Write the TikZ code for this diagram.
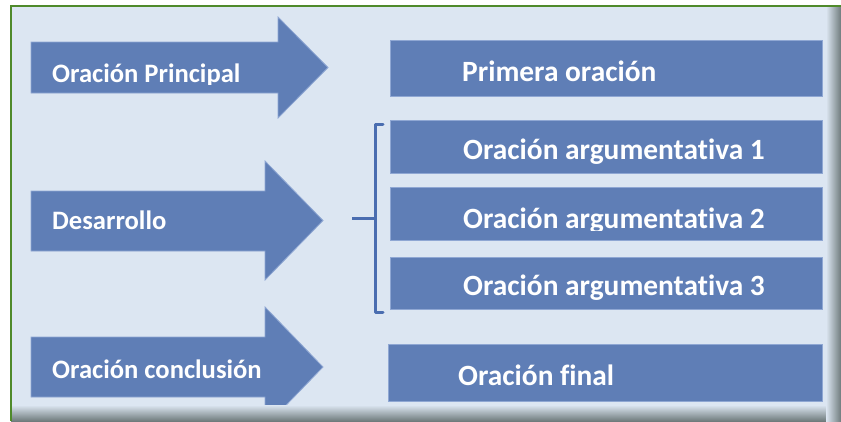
\documentclass[tikz,border=0pt]{standalone}
\usepackage{fontspec}
\setmainfont[Ligatures={NoCommon}]{Carlito}
\definecolor{bgblue}{HTML}{DCE6F2}
\definecolor{boxfill}{HTML}{5F7EB6}
\definecolor{boxedge}{HTML}{8FA7D3}
\definecolor{brblue}{HTML}{4A6DB0}
\definecolor{frgreen}{HTML}{4F8A2B}
\definecolor{shgray}{HTML}{6F7B7C}
\tikzset{
  arrowshape/.style={fill=boxfill, draw=boxedge, line width=0.8pt, line join=miter},
  boxshape/.style={fill=boxfill, draw=boxedge, line width=1pt},
  arrowtext/.style={anchor=base west, text=white, inner sep=0pt, font=\bfseries\fontsize{26.6}{28}\selectfont},
  boxtext/.style={anchor=base west, text=white, inner sep=0pt, font=\bfseries\fontsize{29.4}{31}\selectfont},
  bracketline/.style={draw=brblue, line width=3pt, line join=round, line cap=round}
}
\begin{document}
\begin{tikzpicture}[x=1pt,y=-1pt]
\useasboundingbox (0,0) rectangle (841,421);
\fill[white] (0,0) rectangle (841,421);
\fill[bgblue] (11,6) rectangle (841,421);

% arrows
\begin{scope}
\clip (11,6) rectangle (841,421);
\path[arrowshape] (31,42) -- (278,42) -- (278,17) -- (328,67.5) -- (278,118) -- (278,93) -- (31,93) -- cycle;
\path[arrowshape] (31,191) -- (265,191) -- (265,161) -- (323,220.5) -- (265,280) -- (265,251) -- (31,251) -- cycle;
\path[arrowshape] (31,337) -- (265,337) -- (265,307) -- (323,367) -- (265,427) -- (265,397) -- (31,397) -- cycle;
\end{scope}

% arrow texts
\begin{scope}
\clip (31,42) rectangle (300,84);
\node[arrowtext] (a1) at (52,82.5) {Oración Principal};
\end{scope}
\node[arrowtext] (a2) at (52,229.5) {Desarrollo};
\node[arrowtext] (a3) at (52,378) {Oración conclusión};

% boxes
\path[boxshape] (390,40) rectangle (822,96);
\path[boxshape] (390,120) rectangle (822,173);
\path[boxshape] (390,187) rectangle (822,240);
\path[boxshape] (390,257) rectangle (822,309);
\path[boxshape] (388,344) rectangle (822,401);

\node[boxtext] (b1) at (462,81.5) {Primera oración};
\node[boxtext] (b2) at (463,159) {Oración argumentativa 1};
\begin{scope}
\clip (390,187) rectangle (822,230);
\node[boxtext] (b3) at (463,228.5) {Oración argumentativa 2};
\end{scope}
\node[boxtext] (b4) at (463,295) {Oración argumentativa 3};
\node[boxtext] (b5) at (458,385.5) {Oración final};

% bracket
\coordinate (brtop) at (383,124);
\coordinate (brbot) at (383,312);
\coordinate (brtick) at (352,218);
\draw[bracketline] (brtop) -- (375,124) -- (375,312) -- (brbot);
\draw[bracketline, line cap=butt] (brtick) -- (375,218);

% shadows
\shade[top color=bgblue, bottom color=shgray] (11,405) rectangle (841,421);
\shade[left color=bgblue, right color=shgray] (826,7) rectangle (841,421);

% frame
\draw[frgreen, line width=2pt] (11,421) -- (11,6) -- (841,6);
\end{tikzpicture}
\end{document}
